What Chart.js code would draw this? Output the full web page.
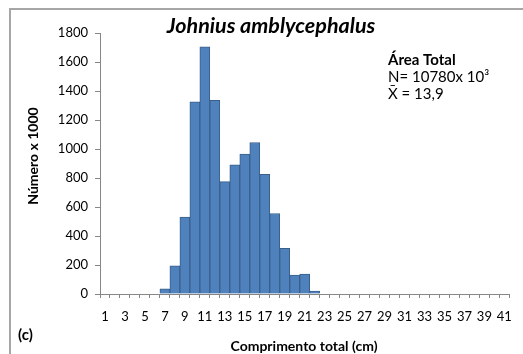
<!DOCTYPE html>
<html>
<head>
<meta charset="utf-8">
<script src="https://cdn.jsdelivr.net/npm/chart.js@4.4.1/dist/chart.umd.min.js"></script>
<style>
  html, body { margin: 0; padding: 0; background: #ffffff; }
  #wrap { width: 523px; height: 354px; position: relative; }
</style>
</head>
<body>
<div id="wrap"><canvas id="c" width="523" height="354"></canvas></div>
<script>
// ---- data ----
const categories = [1,2,3,4,5,6,7,8,9,10,11,12,13,14,15,16,17,18,19,20,21,22,23,24,25,26,27,28,29,30,31,32,33,34,35,36,37,38,39,40,41];
const values = [0,0,0,0,0,0,35,195,530,1325,1705,1335,775,890,965,1045,825,555,315,130,138,20,0,0,0,0,0,0,0,0,0,0,0,0,0,0,0,0,0,0,0];
const yTicks = [0,200,400,600,800,1000,1200,1400,1600,1800];
const chartTitle = 'Johnius amblycephalus';
const xTitle = 'Comprimento total (cm)';
const yTitle = 'Número x 1000';
const panelLabel = '(c)';
const noteLines = ['Área Total', 'N= 10780x 10³', 'X̄ = 13,9'];

const FONT = 'Lato, Carlito, "Liberation Sans", sans-serif';
const AXIS_COLOR = '#868686';

const textPlugin = {
  id: 'texts',
  beforeDraw(chart) {
    const ctx = chart.ctx;
    ctx.save();
    ctx.strokeStyle = '#a6a6a6';
    ctx.lineWidth = 2;
    ctx.beginPath();
    ctx.moveTo(10, 360);
    ctx.lineTo(10, 9);
    ctx.lineTo(530, 9);
    ctx.stroke();
    ctx.restore();
  },
  afterDraw(chart) {
    const ctx = chart.ctx;
    ctx.save();
    ctx.fillStyle = '#000';
    ctx.textBaseline = 'alphabetic';
    // main title
    ctx.font = 'italic bold 21.5px ' + FONT;
    ctx.textAlign = 'center';
    ctx.fillText(chartTitle, 271, 33);
    // x title
    ctx.font = 'bold 14px ' + FONT;
    ctx.fillText(xTitle, 304, 351);
    // y title
    ctx.save();
    ctx.translate(38, 156);
    ctx.rotate(-Math.PI / 2);
    ctx.fillText(yTitle, 0, 0);
    ctx.restore();
    // panel label
    ctx.textAlign = 'left';
    ctx.font = 'bold 15px ' + FONT;
    ctx.fillText(panelLabel, 18, 340);
    // note
    ctx.font = 'bold 15px ' + FONT;
    ctx.fillText(noteLines[0], 388, 65);
    ctx.font = '15px ' + FONT;
    ctx.fillText(noteLines[1], 388, 82);
    ctx.fillText(noteLines[2], 388, 99);
    ctx.restore();
  }
};

new Chart(document.getElementById('c'), {
  type: 'bar',
  data: {
    labels: categories,
    datasets: [{
      data: values,
      backgroundColor: '#4f81bd',
      borderColor: '#3a5f8b',
      borderWidth: 1,
      barPercentage: 1,
      categoryPercentage: 1
    }]
  },
  options: {
    responsive: false,
    animation: false,
    devicePixelRatio: 1,
    layout: { padding: { top: 33, left: 0, right: 7, bottom: 0 } },
    plugins: { legend: { display: false }, title: { display: false }, tooltip: { enabled: false } },
    scales: {
      x: {
        afterFit(scale) { scale.height = 60; },
        border: { color: AXIS_COLOR, width: 1 },
        grid: { offset: true, drawOnChartArea: false, tickLength: 4, color: AXIS_COLOR },
        ticks: {
          autoSkip: false, maxRotation: 0, minRotation: 0, padding: 11,
          color: '#000', font: { family: FONT, size: 13 },
          callback(v, i) { return i % 2 === 0 ? String(categories[i]) : ''; }
        }
      },
      y: {
        min: 0, max: 1800,
        afterFit(scale) { scale.width = 100; },
        afterBuildTicks(scale) { scale.ticks = yTicks.map(v => ({ value: v })); },
        border: { color: AXIS_COLOR, width: 1 },
        grid: { drawOnChartArea: false, tickLength: 5, color: AXIS_COLOR },
        ticks: {
          padding: 7, color: '#000', font: { family: FONT, size: 13 },
          callback(v) { return String(v); }
        }
      }
    }
  },
  plugins: [textPlugin]
});
</script>
</body>
</html>
